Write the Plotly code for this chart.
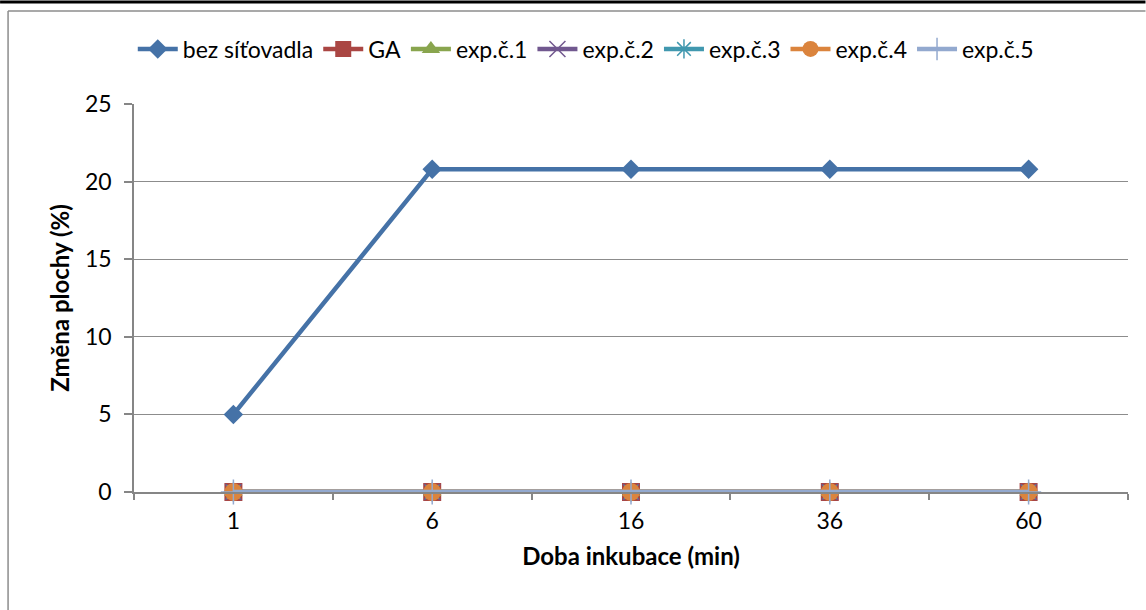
import plotly.graph_objects as go

# Incubation time categories (min)
times = ["1", "6", "16", "36", "60"]

# Area change (%) per series
bez_sitovadla = [5.0, 20.8, 20.8, 20.8, 20.8]
ga = [0, 0, 0, 0, 0]
exp1 = [0, 0, 0, 0, 0]
exp2 = [0, 0, 0, 0, 0]
exp3 = [0, 0, 0, 0, 0]
exp4 = [0, 0, 0, 0, 0]
exp5 = [0, 0, 0, 0, 0]

series = [
    ("bez síťovadla", bez_sitovadla, "#4572A7", "diamond", 15),
    ("GA", ga, "#AA4643", "square", 18),
    ("exp.č.1", exp1, "#89A54E", "triangle-up", 16),
    ("exp.č.2", exp2, "#71588F", "x-thin", 16),
    ("exp.č.3", exp3, "#4198AF", "asterisk", 16),
    ("exp.č.4", exp4, "#DB843D", "circle", 18),
    ("exp.č.5", exp5, "#93A9CF", "cross-thin", 18),
]

FONT = "Lato, Open Sans, sans-serif"

fig = go.Figure()
for name, vals, color, symbol, size in series:
    open_sym = symbol in ("x-thin", "asterisk", "cross-thin")
    fig.add_trace(go.Scatter(
        x=times, y=vals, name=name, mode="lines+markers",
        line=dict(color=color, width=4.5),
        marker=dict(symbol=symbol, size=size, color=color,
                    line=dict(color=color, width=1.5 if open_sym else 0)),
        cliponaxis=False,
    ))

# Plot area in pixels: x 134..1128.5, y 104..492
L, R, T, B = 134, 1128.5, 104, 492
W, H = R - L, B - T


def px(x):
    return (x - L) / W


def py(y):
    return (B - y) / H


fig.update_layout(
    width=1146, height=610,
    margin=dict(l=L, r=1146 - R, t=T, b=610 - B),
    paper_bgcolor="white", plot_bgcolor="white",
    font=dict(family=FONT, size=23, color="black"),
    showlegend=True,
    legend=dict(orientation="h", x=px(586), xanchor="center", y=py(49), yanchor="middle",
                font=dict(size=23), itemwidth=40, tracegroupgap=0,
                bgcolor="rgba(0,0,0,0)"),
    xaxis=dict(
        type="category", range=[-0.5, 4.5],
        showline=True, linecolor="#868686", linewidth=1.5,
        ticks="outside", tickson="boundaries", ticklen=6, tickcolor="#868686", tickwidth=1.5,
        showgrid=False, zeroline=False,
        tickfont=dict(size=23), ticklabelstandoff=8,
        title=dict(text="<b>Doba inkubace (min)</b>", font=dict(size=24), standoff=15),
    ),
    yaxis=dict(
        range=[0, 25], dtick=5,
        showline=True, linecolor="#868686", linewidth=1.5,
        ticks="outside", ticklen=8, tickcolor="#868686", tickwidth=1.5,
        showgrid=True, gridcolor="#8C8C8C", gridwidth=1.2,
        zeroline=False,
        tickfont=dict(size=23), ticklabelstandoff=8,
        title=dict(text="<b>Změna plochy (%)</b>", font=dict(size=24), standoff=9),
    ),
    shapes=[
        # heavy rule across the top edge
        dict(type="line", xref="paper", yref="paper",
             x0=px(0), x1=px(1146), y0=py(2), y1=py(2),
             line=dict(color="black", width=3)),
        # chart frame: top and left edges
        dict(type="line", xref="paper", yref="paper",
             x0=px(8), x1=px(1146), y0=py(11), y1=py(11),
             line=dict(color="#8C8C8C", width=1.5)),
        dict(type="line", xref="paper", yref="paper",
             x0=px(8), x1=px(8), y0=py(11), y1=py(610),
             line=dict(color="#8C8C8C", width=1.5)),
    ],
)

fig.write_html("out.html")
